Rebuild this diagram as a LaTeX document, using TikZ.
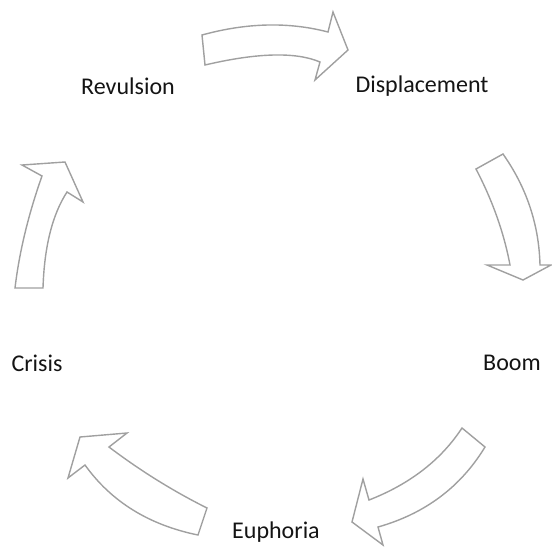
\documentclass[tikz,border=0pt]{standalone}
\usepackage{fontspec}
\setmainfont{Carlito}
\definecolor{arrowgray}{RGB}{160,160,160}
\definecolor{labeltext}{RGB}{20,20,20}
\tikzset{
  cyclearrow/.style={draw=arrowgray, line width=1.4pt, fill=white, line join=miter},
  stage/.style={font=\fontsize{24}{28}\selectfont, text=labeltext, inner sep=0pt}
}
\begin{document}
\begin{tikzpicture}[x=1pt,y=-1pt]
\useasboundingbox (0,0) rectangle (552,547);
% top arrow (Revulsion -> Displacement)
\draw[cyclearrow] (202,35) .. controls (246.7,22.7) and (288.7,21.7) .. (328,32) -- (333,12) -- (348,50) -- (315,80) -- (320,62)
  .. controls (295.7,51.7) and (257.3,52.7) .. (205,65) -- cycle;
% right arrow (Displacement -> Boom)
\draw[cyclearrow] (476,169) -- (503,154) .. controls (526.7,187.7) and (539,224.7) .. (540,265) -- (551,265) -- (523,280) -- (487,265) -- (510,265)
  .. controls (504,233) and (492.7,201) .. cycle;
% bottom right arrow (Boom -> Euphoria)
\draw[cyclearrow] (462,428) -- (485,447) .. controls (460.7,487) and (425,513.7) .. (378,527) -- (383,545) -- (352,522) -- (363,479) -- (369,500)
  .. controls (410,484) and (441,460) .. cycle;
% bottom left arrow (Euphoria -> Crisis)
\draw[cyclearrow] (207,508) -- (198,535) .. controls (149,525) and (111.3,501.7) .. (85,465) -- (68,478) -- (80,437) -- (127,433) -- (109,447)
  .. controls (140.3,470.7) and (173,491) .. cycle;
% left arrow (Crisis -> Revulsion)
\draw[cyclearrow] (15,288) -- (43,288) .. controls (44.3,246.7) and (52.3,214.7) .. (67,192) -- (83,202) -- (65,162) -- (22,165) -- (42,176)
  .. controls (28.3,214.7) and (19.3,252) .. cycle;
% labels
\node[stage] (revulsion) at (128,86) {Revulsion};
\node[stage] (displacement) at (422,86) {Displacement};
\node[stage] (boom) at (512,363) {Boom};
\node[stage] (euphoria) at (276,532) {Euphoria};
\node[stage] (crisis) at (37,363) {Crisis};
\end{tikzpicture}
\end{document}
